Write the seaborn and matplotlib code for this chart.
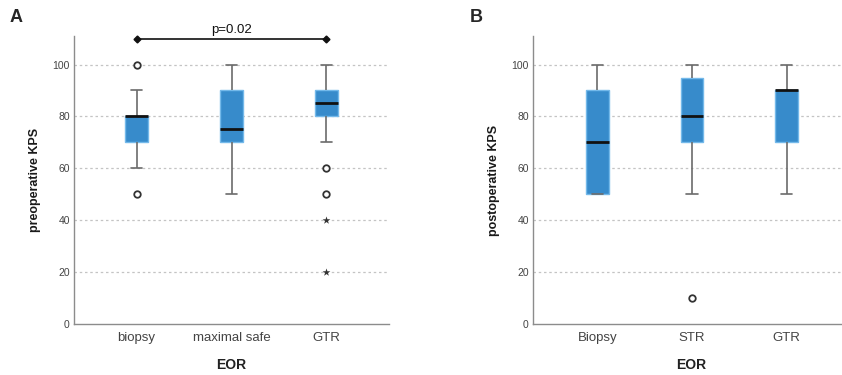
import numpy as np
import pandas as pd
import matplotlib
matplotlib.use("Agg")
import matplotlib.pyplot as plt
import seaborn as sns

# ---- data (KPS values per group) ----
pre_categories = ["biopsy", "maximal safe", "GTR"]
pre_biopsy = [50, 60, 70, 70, 80, 80, 80, 80, 90, 100]
pre_maxsafe = [50, 70, 70, 75, 90, 90, 100]
pre_gtr = [20, 40, 50, 60, 70, 80, 80, 80, 80, 80, 85,
           90, 90, 90, 90, 90, 90, 90, 90, 90, 100]

post_categories = ["Biopsy", "STR", "GTR"]
post_biopsy = [50, 50, 70, 90, 100]
post_str = [10, 50, 70, 70, 80, 90, 95, 95, 100]
post_gtr = [50, 70, 70, 90, 90, 90, 90, 100]

y_ticks = [0, 20, 40, 60, 80, 100]
p_label = "p=0.02"
p_pair = ["biopsy", "GTR"]
p_height = 109.7

BOX = "#378BCB"
BOX_EDGE = "#74B9EA"
LINE = "#6B6B6B"
SPINE = "#8C8C8C"

sns.set_style("white")
plt.rcParams["font.family"] = ["Liberation Sans", "DejaVu Sans"]

fig = plt.figure(figsize=(8.42, 3.75), dpi=100)
axA = fig.add_axes([74/842, 51/375, 315/842, 288/375])
axB = fig.add_axes([533/842, 51/375, 316/842, 288/375])


def draw(ax, cats, groups, ylabel, xlim):
    df = pd.DataFrame({
        "EOR": np.concatenate([[c] * len(g) for c, g in zip(cats, groups)]),
        "KPS": np.concatenate(groups).astype(float),
    })
    for y in y_ticks[1:]:
        ax.axhline(y, color="#C4C4C4", lw=0.9, ls=(0, (2, 2.2)), zorder=0)
    sns.boxplot(data=df, x="EOR", y="KPS", order=cats, ax=ax, width=0.24,
                color=BOX, saturation=1, showfliers=False, whis=1.5,
                boxprops=dict(facecolor=BOX, edgecolor=BOX_EDGE, linewidth=1.0),
                medianprops=dict(color="#111111", linewidth=2.0),
                whiskerprops=dict(color=LINE, linewidth=1.2),
                capprops=dict(color=LINE, linewidth=1.2))
    # outliers (o) and extremes (*) as in SPSS
    for i, g in enumerate(groups):
        g = np.asarray(g, float)
        q1, q3 = np.percentile(g, [25, 75])
        iqr = q3 - q1
        mild = g[((g < q1 - 1.5 * iqr) & (g >= q1 - 3 * iqr)) |
                 ((g > q3 + 1.5 * iqr) & (g <= q3 + 3 * iqr))]
        ext = g[(g < q1 - 3 * iqr) | (g > q3 + 3 * iqr)]
        if len(mild):
            ax.scatter([i] * len(mild), mild, s=22, marker="o",
                       facecolor="white", edgecolor="#333333", linewidth=1.3, zorder=4)
        if len(ext):
            ax.scatter([i] * len(ext), ext, s=34, marker="*",
                       color="#333333", linewidth=0, zorder=4)
    ax.set_ylim(0, 111)
    ax.set_xlim(*xlim)
    ax.set_yticks(y_ticks)
    ax.tick_params(axis="y", labelsize=7.5, colors="#444444", length=0, pad=3)
    ax.tick_params(axis="x", labelsize=9.5, colors="#444444", length=0, pad=6)
    ax.set_ylabel(ylabel, fontsize=9, fontweight="bold", color="#1a1a1a", labelpad=8)
    ax.set_xlabel("EOR", fontsize=10, fontweight="bold", color="#222222", labelpad=10)
    for s in ["top", "right"]:
        ax.spines[s].set_visible(False)
    for s in ["left", "bottom"]:
        ax.spines[s].set_color(SPINE)
        ax.spines[s].set_linewidth(1.0)


draw(axA, pre_categories, [pre_biopsy, pre_maxsafe, pre_gtr],
     "preoperative KPS", (-0.66, 2.66))
draw(axB, post_categories, [post_biopsy, post_str, post_gtr],
     "postoperative KPS", (-0.68, 2.66))

# significance bracket in panel A
xi = [pre_categories.index(c) for c in p_pair]
axA.plot(xi, [p_height, p_height], color="#111111", lw=1.2, marker="D",
         markersize=3.5, clip_on=False, zorder=5)
axA.text(np.mean(xi), p_height + 1.3, p_label, ha="center", va="bottom",
         fontsize=9.5, color="#111111", clip_on=False)

fig.text(10/842, 1 - 22/375, "A", fontsize=13, fontweight="bold", va="baseline")
fig.text(470/842, 1 - 22/375, "B", fontsize=13, fontweight="bold", va="baseline")

fig.savefig("out.png", dpi=100)
